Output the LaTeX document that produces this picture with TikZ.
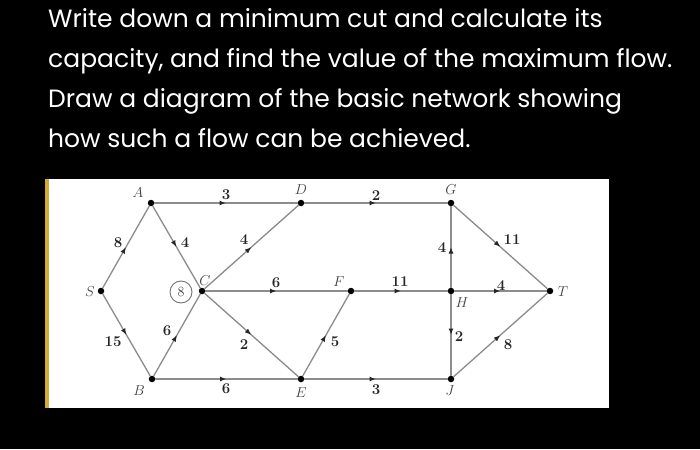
\documentclass[tikz,border=0pt]{standalone}
\usepackage{fontspec}
\newfontfamily\popp{Poppins}
\usetikzlibrary{arrows.meta,decorations.markings}
\definecolor{strip}{HTML}{D4AA30}
\begin{document}
\begin{tikzpicture}[x=1pt,y=-1pt,
  vtx/.style={circle,fill=black,inner sep=0pt,minimum size=6.5pt},
  lbl/.style={inner sep=0pt,text=black!75,font=\fontsize{15}{15}\selectfont},
  num/.style={inner sep=0pt,text=black!85,font=\fontsize{15}{15}\selectfont\bfseries},
  toptext/.style={inner sep=0pt,anchor=base west,text=white,font=\popp\fontsize{25}{25}\selectfont},
  edge/.style={draw=black!45,line width=1.3pt,postaction={decorate},
    decoration={markings,mark=at position 0.5 with {\arrow[black!85]{Latex[length=6.5pt,width=5pt]}}}}]
\useasboundingbox (0,0) rectangle (700,449);
\fill[black] (0,0) rectangle (700,449);
\fill[white] (49,179) rectangle (609,408);
\fill[strip] (45,179) rectangle (49,408);
% top text
\node[toptext] (t1) at (48,28) {Write down a minimum cut and calculate its};
\node[toptext] (t2) at (48,68) {capacity, and find the value of the maximum flow.};
\node[toptext] (t3) at (48,108) {Draw a diagram of the basic network showing};
\node[toptext] (t4) at (48,147) {how such a flow can be achieved.};
% vertices
\node[vtx] (S) at (101,291) {};
\node[vtx] (A) at (151,203) {};
\node[vtx] (B) at (152,379) {};
\node[vtx] (C) at (202,291) {};
\node[vtx] (D) at (301,203) {};
\node[vtx] (E) at (301,379) {};
\node[vtx] (F) at (351,291) {};
\node[vtx] (G) at (451,203) {};
\node[vtx] (H) at (451,291) {};
\node[vtx] (J) at (451,379) {};
\node[vtx] (T) at (550,291) {};
% edges
\draw[edge] (S) -- (A);
\draw[edge] (A) -- (C);
\draw[edge] (A) -- (D);
\draw[edge] (C) -- (D);
\draw[edge] (D) -- (G);
\draw[edge] (H) -- (G);
\draw[edge] (G) -- (T);
\draw[edge] (C) -- (F);
\draw[edge] (F) -- (H);
\draw[edge] (H) -- (T);
\draw[edge] (S) -- (B);
\draw[edge] (B) -- (C);
\draw[edge] (C) -- (E);
\draw[edge] (B) -- (E);
\draw[edge] (E) -- (F);
\draw[edge] (E) -- (J);
\draw[edge] (H) -- (J);
\draw[edge] (J) -- (T);
% vertex labels
\node[lbl] (lA) at (138,193) {$A$};
\node[lbl] (lD) at (301,190) {$D$};
\node[lbl] (lG) at (451,190) {$G$};
\node[lbl] (lS) at (90,292) {$S$};
\node[lbl] (lC) at (205,281) {$C$};
\node[lbl] (lF) at (339,282) {$F$};
\node[lbl] (lH) at (462,303) {$H$};
\node[lbl] (lT) at (563,292) {$T$};
\node[lbl] (lB) at (139,391) {$B$};
\node[lbl] (lE) at (301,393) {$E$};
\node[lbl] (lJ) at (450,391) {$J$};
% circled 8
\node[circle,draw=black!55,line width=0.9pt,minimum size=22pt,inner sep=0pt,text=black!75,font=\fontsize{14}{14}\selectfont] (c8) at (181,292) {8};
% capacities
\node[num] (nSA) at (118,243) {8};
\node[num] (nAC) at (185,243) {4};
\node[num] (nAD) at (226,195) {3};
\node[num] (nCD) at (244,240) {4};
\node[num] (nDG) at (376,196) {2};
\node[num] (nHG) at (442,248) {4};
\node[num] (nGT) at (512,240) {11};
\node[num] (nCF) at (276,283) {6};
\node[num] (nFH) at (400,282) {11};
\node[num] (nHT) at (501,286) {4};
\node[num] (nSB) at (113,342) {15};
\node[num] (nBC) at (167,331) {6};
\node[num] (nCE) at (244,345) {2};
\node[num] (nBE) at (226,389) {6};
\node[num] (nEF) at (335,342) {5};
\node[num] (nEJ) at (376,390) {3};
\node[num] (nHJ) at (459,337) {2};
\node[num] (nJT) at (508,345) {8};
\end{tikzpicture}
\end{document}
